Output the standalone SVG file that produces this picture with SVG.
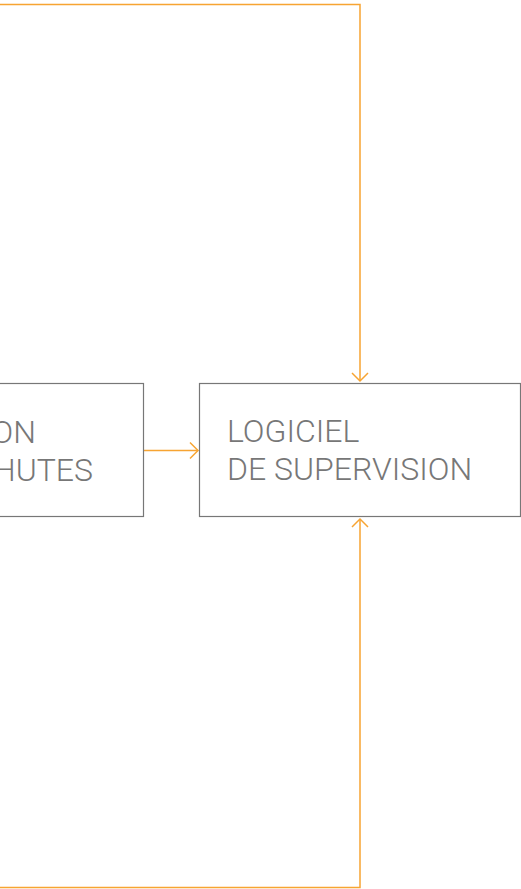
<svg xmlns="http://www.w3.org/2000/svg" width="521" height="889" viewBox="0 0 521 889">
<style>
.box{fill:#fff;stroke:#777;stroke-width:1.2}
.lbl{font-family:Roboto,"Liberation Sans",sans-serif;font-weight:300;font-size:32px;fill:#777}
.con{fill:none;stroke:#f7a432;stroke-width:1.5}
</style>
<defs>
<marker id="arr" viewBox="-10 -10 20 20" markerWidth="20" markerHeight="20" refX="0" refY="0" orient="auto" markerUnits="userSpaceOnUse">
<path d="M-8,-8 L0,0 L-8,8" fill="none" stroke="#f7a432" stroke-width="1.5"/>
</marker>
</defs>
<g id="connectors">
<path class="con" d="M0,4.5 H360 V381" marker-end="url(#arr)"/>
<path class="con" d="M0,887.5 H360 V519" marker-end="url(#arr)"/>
<path class="con" d="M143,450.5 H198" marker-end="url(#arr)"/>
</g>
<g id="node-left">
<rect class="box" x="-10" y="383.5" width="153.5" height="133"/>
<text class="lbl" x="36" y="443" text-anchor="end">ON</text>
<text class="lbl" x="93" y="481" text-anchor="end">HUTES</text>
</g>
<g id="node-logiciel">
<rect class="box" x="199.5" y="383.5" width="321" height="133"/>
<text class="lbl" x="227" y="442">LOGICIEL</text>
<text class="lbl" x="227" y="480">DE SUPERVISION</text>
</g>
</svg>
